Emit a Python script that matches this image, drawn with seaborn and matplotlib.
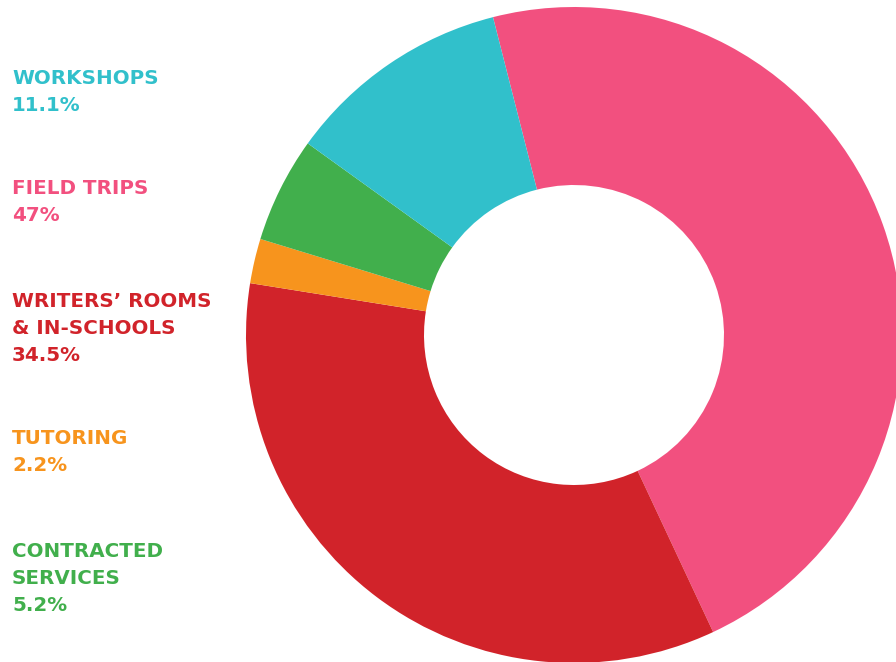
import matplotlib
matplotlib.use("Agg")
import matplotlib.pyplot as plt
import seaborn as sns

sns.set_style("white")
plt.rcParams['font.family'] = ['DejaVu Sans']

categories = ["FIELD TRIPS", "WRITERS’ ROOMS\n& IN-SCHOOLS", "TUTORING", "CONTRACTED\nSERVICES", "WORKSHOPS"]
values = [47.0, 34.5, 2.2, 5.2, 11.1]
value_labels = ["47%", "34.5%", "2.2%", "5.2%", "11.1%"]
colors = ["#F2507F", "#D1232A", "#F7941D", "#41AF4C", "#31C0CB"]

W, H = 896, 662
fig = plt.figure(figsize=(W / 100, H / 100), dpi=100)
fig.patch.set_facecolor("white")

cx, cy, R = 574, 335, 328
ax = fig.add_axes([(cx - R) / W, (H - cy - R) / H, 2 * R / W, 2 * R / H])
ax.pie(values, colors=colors, startangle=104.3, counterclock=False,
       radius=1.0, wedgeprops=dict(width=1 - 150 / 328, linewidth=0))
ax.set_xlim(-1, 1)
ax.set_ylim(-1, 1)
ax.set_aspect("equal")
ax.axis("off")

# legend-like labels on the left (baseline y in pixels)
label_order = [4, 0, 1, 2, 3]
baselines = [84, 194, 307, 444, 557]
line = 27
for idx, yb in zip(label_order, baselines):
    lines = categories[idx].split("\n") + [value_labels[idx]]
    for k, t in enumerate(lines):
        fig.text(12 / W, 1 - (yb + k * line) / H, t, color=colors[idx],
                 fontsize=14.3, fontweight="bold", ha="left", va="baseline")

fig.savefig("out.png", dpi=100, facecolor="white")
